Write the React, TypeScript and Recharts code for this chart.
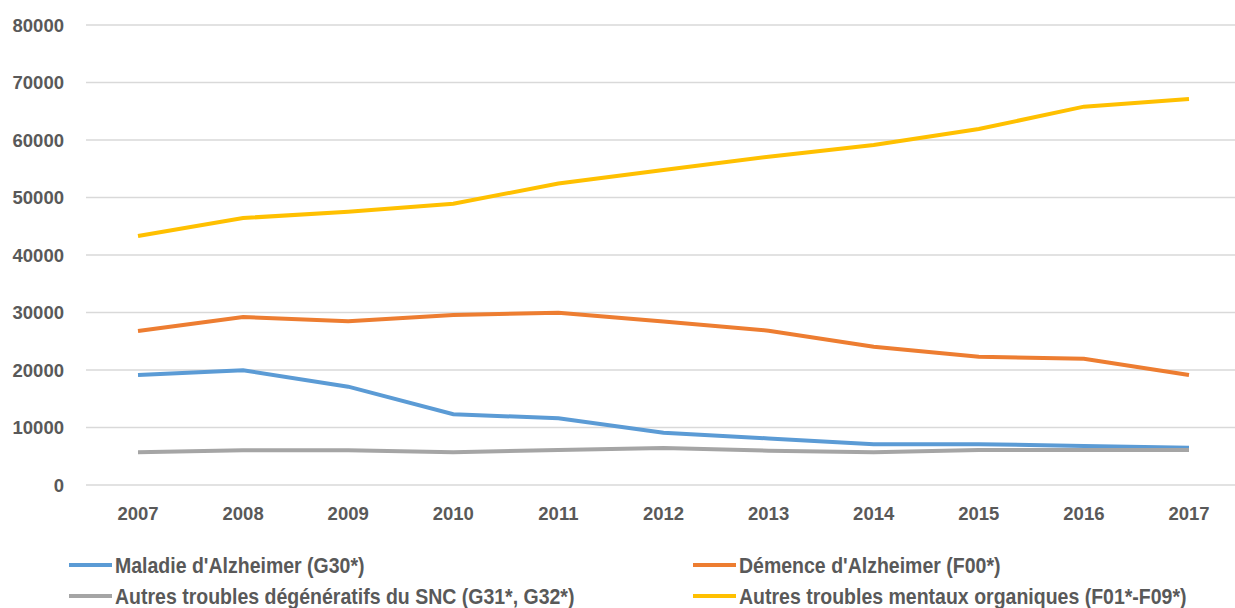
import { LineChart, Line, XAxis, YAxis, CartesianGrid } from 'recharts';

const years = ['2007', '2008', '2009', '2010', '2011', '2012', '2013', '2014', '2015', '2016', '2017'];
const maladie = [19130, 19950, 17100, 12300, 11600, 9100, 8100, 7100, 7100, 6780, 6490];
const demence = [26780, 29220, 28470, 29570, 29970, 28450, 26840, 24050, 22310, 21970, 19130];
const autresSnc = [5680, 6030, 6030, 5680, 6090, 6450, 5970, 5680, 6090, 6090, 6090];
const autresMentaux = [43300, 46430, 47530, 48900, 52450, 54800, 57100, 59130, 61910, 65800, 67130];
const yTicks = [0, 10000, 20000, 30000, 40000, 50000, 60000, 70000, 80000];

const series = [
  { key: 'maladie', name: "Maladie d'Alzheimer (G30*)", color: '#5b9bd5', values: maladie },
  { key: 'demence', name: "Démence d'Alzheimer (F00*)", color: '#ed7d31', values: demence },
  { key: 'autresSnc', name: 'Autres troubles dégénératifs du SNC (G31*, G32*)', color: '#a5a5a5', values: autresSnc },
  { key: 'autresMentaux', name: 'Autres troubles mentaux organiques (F01*-F09*)', color: '#ffc000', values: autresMentaux },
];

const data = years.map((year, i) => {
  const row: Record<string, string | number> = { year };
  series.forEach((s) => {
    row[s.key] = s.values[i];
  });
  return row;
});

const font = '"Liberation Sans", Arial, sans-serif';
const tickStyle = { fill: '#595959', fontSize: 18.5, fontWeight: 700, fontFamily: font };

export default function App() {
  return (
    <div style={{ position: 'fixed', left: 0, top: 0, width: 1235, height: 608, overflow: 'hidden', background: '#fff' }}>
      <LineChart
        width={1241}
        height={608}
        data={data}
        margin={{ top: 25, right: 0, bottom: 83, left: 0 }}
      >
        <CartesianGrid vertical={false} stroke="#d9d9d9" strokeWidth={1.5} />
        <XAxis
          dataKey="year"
          axisLine={false}
          tickLine={false}
          tickSize={0}
          tickMargin={22}
          height={40}
          padding={{ left: 52, right: 52 }}
          tick={tickStyle}
        />
        <YAxis
          domain={[0, 80000]}
          ticks={yTicks}
          axisLine={false}
          tickLine={false}
          tickSize={0}
          tickMargin={22}
          width={86}
          tick={tickStyle}
        />
        {series.map((s) => (
          <Line
            key={s.key}
            type="linear"
            dataKey={s.key}
            name={s.name}
            stroke={s.color}
            strokeWidth={4}
            dot={false}
            isAnimationActive={false}
          />
        ))}
      </LineChart>
      <div
        style={{
          position: 'absolute',
          left: 69,
          top: 552,
          display: 'grid',
          gridTemplateColumns: '624px 500px',
          rowGap: 5,
          fontFamily: font,
          fontWeight: 700,
          fontSize: 19.5,
          color: '#595959',
        }}
      >
        {series.map((s) => (
          <div key={s.key} style={{ display: 'flex', alignItems: 'center', height: 26, whiteSpace: 'nowrap' }}>
            <span style={{ display: 'inline-block', width: 43, height: 4, background: s.color, marginRight: 3 }} />
            <span style={{ display: 'inline-block', transform: 'scaleY(1.12)' }}>{s.name}</span>
          </div>
        ))}
      </div>
    </div>
  );
}
